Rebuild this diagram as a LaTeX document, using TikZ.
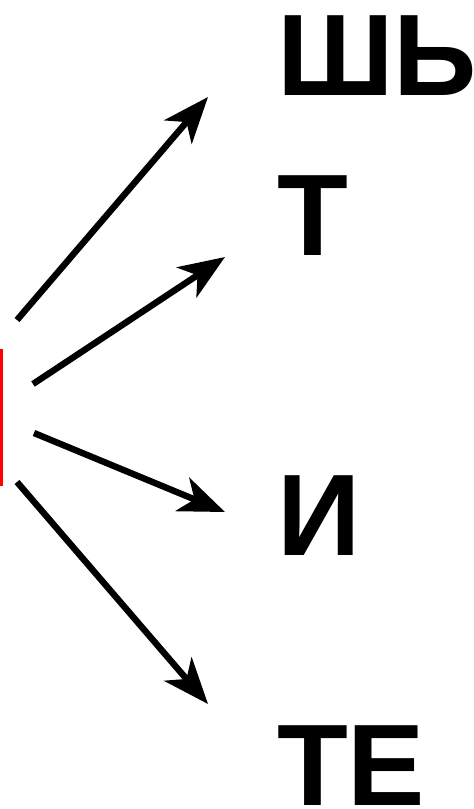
\documentclass[tikz,border=0pt]{standalone}
\usepackage{fontspec}
\setmainfont{Liberation Sans}
\usepackage{tikz}
\usetikzlibrary{positioning,arrows.meta}
\definecolor{cursorRed}{HTML}{FF0000}

\begin{document}
\begin{tikzpicture}[
  x=1pt, y=-1pt,
  every node/.style={font=\fontsize{116}{116}\selectfont\bfseries},
  syl/.style={anchor=base west, inner sep=0pt, outer sep=0pt},
  arr/.style={-{Stealth[length=46pt, width=36pt, inset=13pt]}, line width=6.4pt, black},
  cur/.style={line width=2.6pt, cursorRed}
]
  \useasboundingbox (0,0) rectangle (474,809);
  % cursor
  \coordinate (curtop) at (1.3,349);
  \coordinate (curbot) at (1.3,486);
  \draw[cur] (curtop) -- (curbot);
  % syllables
  \node[syl] (sha) at (277,95) {ШЬ};
  \node[syl] (te) at (277,255) {Т};
  \node[syl] (i) at (277,555) {И};
  \node[syl] (tee) at (277,805) {ТЕ};
  % arrow ends
  \coordinate (s1) at (17,320);
  \coordinate (s2) at (33,384);
  \coordinate (s3) at (34,433);
  \coordinate (s4) at (17,482);
  \coordinate (e1) at (208,97);
  \coordinate (e2) at (225,257);
  \coordinate (e3) at (225,512);
  \coordinate (e4) at (208,704);
  \draw[arr] (s1) -- (e1);
  \draw[arr] (s2) -- (e2);
  \draw[arr] (s3) -- (e3);
  \draw[arr] (s4) -- (e4);
\end{tikzpicture}
\end{document}
